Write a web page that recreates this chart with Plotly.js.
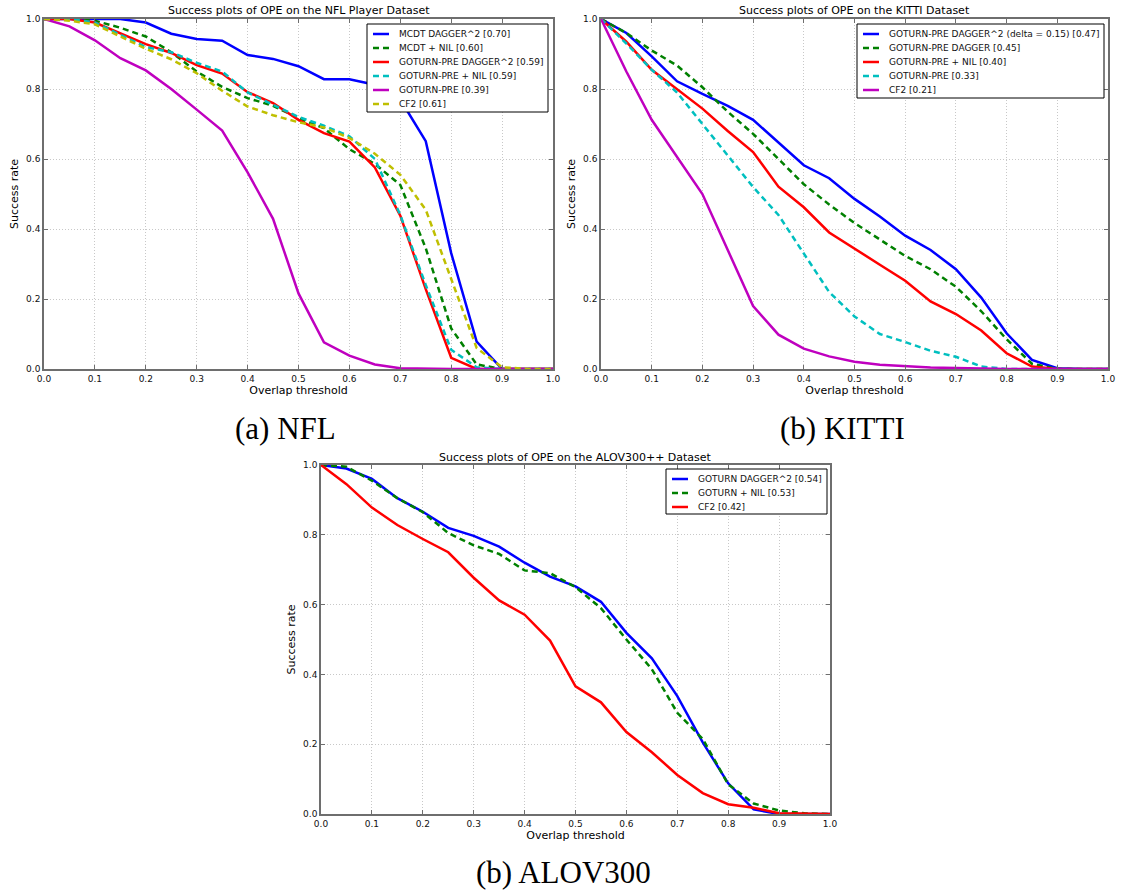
<!DOCTYPE html>
<html><head><meta charset="utf-8">
<script src="https://cdn.plot.ly/plotly-3.0.1.min.js"></script>
<style>html,body{margin:0;padding:0;background:#fff}#chart{width:1122px;height:892px}</style>
</head><body><div id="chart"></div>
<script>
const thresholds = [0.00,0.05,0.10,0.15,0.20,0.25,0.30,0.35,0.40,0.45,0.50,0.55,0.60,0.65,0.70,0.75,0.80,0.85,0.90,0.95,1.00];
const xTickVals = [0.0,0.1,0.2,0.3,0.4,0.5,0.6,0.7,0.8,0.9,1.0];
const yTickVals = [0.0,0.2,0.4,0.6,0.8,1.0];

// (a) NFL Player Dataset
const nflTitle = "Success plots of OPE on the NFL Player Dataset";
const nflNames = ["MCDT DAGGER^2 [0.70]","MCDT + NIL [0.60]","GOTURN-PRE DAGGER^2 [0.59]","GOTURN-PRE + NIL [0.59]","GOTURN-PRE [0.39]","CF2 [0.61]"];
const nflMcdtDagger2 = [1.0,1.0,1.0,1.0,0.99,0.958,0.943,0.938,0.897,0.886,0.865,0.828,0.828,0.812,0.77,0.651,0.331,0.078,0.0,0.0,0.0];
const nflMcdtNil     = [1.0,1.0,0.995,0.975,0.95,0.905,0.85,0.806,0.774,0.752,0.717,0.688,0.628,0.586,0.526,0.345,0.116,0.013,0.0,0.0,0.0];
const nflGoturnDagger2 = [1.0,1.0,0.99,0.96,0.928,0.903,0.868,0.844,0.791,0.76,0.712,0.674,0.65,0.576,0.438,0.228,0.032,0.0,0.0,0.0,0.0];
const nflGoturnNil   = [1.0,1.0,0.99,0.955,0.92,0.905,0.875,0.85,0.79,0.755,0.72,0.695,0.665,0.6,0.44,0.24,0.055,0.005,0.0,0.0,0.0];
const nflGoturnPre   = [1.0,0.979,0.939,0.888,0.853,0.80,0.741,0.681,0.562,0.429,0.216,0.076,0.038,0.013,0.002,0.0,0.0,0.0,0.0,0.0,0.0];
const nflCf2         = [1.0,0.995,0.985,0.95,0.915,0.885,0.845,0.795,0.75,0.725,0.705,0.69,0.66,0.615,0.555,0.455,0.26,0.06,0.005,0.0,0.0];

// (b) KITTI Dataset
const kittiTitle = "Success plots of OPE on the KITTI Dataset";
const kittiNames = ["GOTURN-PRE DAGGER^2 (delta = 0.15) [0.47]","GOTURN-PRE DAGGER [0.45]","GOTURN-PRE + NIL [0.40]","GOTURN-PRE [0.33]","CF2 [0.21]"];
const kittiDagger2 = [1.0,0.96,0.893,0.822,0.786,0.752,0.712,0.648,0.582,0.545,0.486,0.436,0.381,0.34,0.285,0.204,0.102,0.026,0.002,0.0,0.0];
const kittiDagger  = [1.0,0.96,0.91,0.867,0.805,0.735,0.672,0.6,0.528,0.47,0.417,0.37,0.323,0.285,0.235,0.165,0.085,0.015,0.0,0.0,0.0];
const kittiNil     = [1.0,0.935,0.855,0.8,0.744,0.68,0.62,0.521,0.462,0.39,0.345,0.298,0.252,0.193,0.157,0.11,0.045,0.007,0.0,0.0,0.0];
const kittiPre     = [1.0,0.93,0.855,0.79,0.7,0.61,0.52,0.44,0.33,0.22,0.15,0.1,0.077,0.052,0.035,0.007,0.0,0.0,0.0,0.0,0.0];
const kittiCf2     = [1.0,0.85,0.712,0.605,0.5,0.34,0.18,0.098,0.058,0.036,0.021,0.012,0.008,0.004,0.003,0.001,0.0,0.0,0.0,0.0,0.0];

// (b) ALOV300++ Dataset
const alovTitle = "Success plots of OPE on the ALOV300++ Dataset";
const alovNames = ["GOTURN DAGGER^2 [0.54]","GOTURN + NIL [0.53]","CF2 [0.42]"];
const alovDagger2 = [1.0,0.99,0.96,0.905,0.866,0.82,0.797,0.766,0.72,0.68,0.652,0.608,0.519,0.446,0.338,0.205,0.088,0.013,0.0,0.0,0.0];
const alovNil     = [1.0,0.995,0.955,0.905,0.865,0.805,0.77,0.745,0.698,0.69,0.65,0.59,0.5,0.415,0.29,0.215,0.085,0.03,0.01,0.002,0.0];
const alovCf2     = [1.0,0.945,0.878,0.828,0.788,0.75,0.677,0.612,0.571,0.497,0.366,0.32,0.235,0.177,0.112,0.06,0.028,0.018,0.002,0.0,0.0];

const captions = ["(a) NFL","(b) KITTI","(b) ALOV300"];

// styles
const C = {b:'#0000ff', g:'#008000', r:'#ff0000', c:'#00bfbf', m:'#bf00bf', y:'#bfbf00'};
const SOLID = 'solid', DASH = '6px,4px';
const W = 1122, H = 892;
const px = v => v / W, py = v => 1 - v / H;

const panels = [
  {ax:'', title:nflTitle, names:nflNames,
   series:[nflMcdtDagger2,nflMcdtNil,nflGoturnDagger2,nflGoturnNil,nflGoturnPre,nflCf2],
   colors:[C.b,C.g,C.r,C.c,C.m,C.y], dashes:[SOLID,DASH,SOLID,DASH,SOLID,DASH],
   box:[44,553,19,369], leg:[367,548,24,112], cap:[285,428]},
  {ax:'2', title:kittiTitle, names:kittiNames,
   series:[kittiDagger2,kittiDagger,kittiNil,kittiPre,kittiCf2],
   colors:[C.b,C.g,C.r,C.c,C.m], dashes:[SOLID,DASH,SOLID,DASH,SOLID],
   box:[601,1108,19,369], leg:[857,1104,24,98], cap:[842,428]},
  {ax:'3', title:alovTitle, names:alovNames,
   series:[alovDagger2,alovNil,alovCf2],
   colors:[C.b,C.g,C.r], dashes:[SOLID,DASH,SOLID],
   box:[321,830,465,814], leg:[666,827,469,514], cap:[563,872]}
];

const traces = [], shapes = [], annotations = [];
const layout = {
  width: W, height: H, margin:{l:0,r:0,t:0,b:0},
  paper_bgcolor:'#fff', plot_bgcolor:'#fff', showlegend:false,
  font:{family:'DejaVu Sans', size:9, color:'#000'}
};

panels.forEach((p, k) => {
  const [x0,x1,y0,y1] = p.box;
  const axisCommon = {
    range:[0,1], showline:true, linecolor:'#6e6e6e', linewidth:1.5, mirror:'ticks',
    ticks:'inside', ticklen:4, tickcolor:'#6e6e6e', tickwidth:1,
    showgrid:true, gridcolor:'#c8c8c8', griddash:'1px,2px', gridwidth:1, zeroline:false,
    tickformat:'.1f', tickfont:{family:'DejaVu Sans', size:9, color:'#111'}
  };
  layout['xaxis'+p.ax] = Object.assign({}, axisCommon, {
    domain:[px(x0), px(x1)], anchor:'y'+p.ax, tickvals:xTickVals,
    title:{text:'Overlap threshold', font:{size:11}, standoff:4}, automargin:false
  });
  layout['yaxis'+p.ax] = Object.assign({}, axisCommon, {
    domain:[py(y1), py(y0)], anchor:'x'+p.ax, tickvals:yTickVals,
    title:{text:'Success rate', font:{size:11}, standoff:5}, automargin:false
  });
  p.series.forEach((s,i) => {
    traces.push({x:thresholds, y:s, type:'scatter', mode:'lines', name:p.names[i],
      xaxis:'x'+p.ax, yaxis:'y'+p.ax, cliponaxis:false,
      line:{color:p.colors[i], width:2.5, dash:p.dashes[i]}, hoverinfo:'x+y+name'});
  });
  // plot title
  annotations.push({xref:'paper', yref:'paper', x:px((x0+x1)/2), y:py(y0-8), text:p.title,
    showarrow:false, xanchor:'center', yanchor:'middle', font:{size:11}});
  // caption
  annotations.push({xref:'paper', yref:'paper', x:px(p.cap[0]), y:py(p.cap[1]), text:captions[k],
    showarrow:false, xanchor:'center', yanchor:'middle', font:{family:'Liberation Serif', size:31}});
  // legend box
  const [lx0,lx1,ly0,ly1] = p.leg;
  shapes.push({type:'rect', xref:'paper', yref:'paper', x0:px(lx0), x1:px(lx1), y0:py(ly1), y1:py(ly0),
    line:{color:'#000', width:1}, fillcolor:'#fff', layer:'above'});
  const rowH = 14;
  p.names.forEach((n,i) => {
    const ry = ly0 + 10 + i*rowH;
    shapes.push({type:'line', xref:'paper', yref:'paper', x0:px(lx0+6), x1:px(lx0+22), y0:py(ry), y1:py(ry),
      line:{color:p.colors[i], width:2.5, dash:p.dashes[i]}, layer:'above'});
    annotations.push({xref:'paper', yref:'paper', x:px(lx0+30), y:py(ry), text:n, showarrow:false,
      xanchor:'left', yanchor:'middle', font:{size:9, color:'#111'}});
  });
});
layout.shapes = shapes;
layout.annotations = annotations;

Plotly.newPlot('chart', traces, layout, {displayModeBar:false, responsive:false});
</script>
</body></html>
